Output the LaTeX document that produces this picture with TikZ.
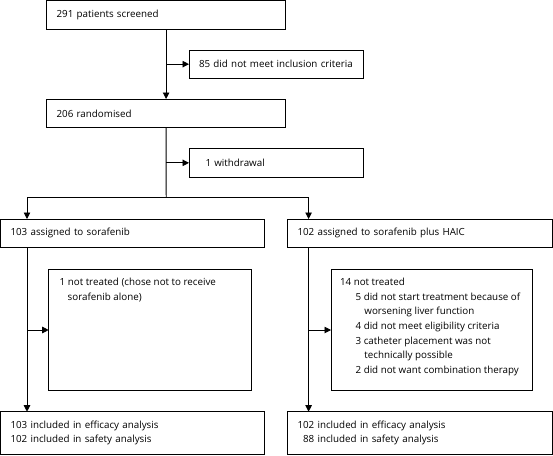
\documentclass[tikz,border=0pt]{standalone}
\usepackage{fontspec}
\setmainfont{Open Sans}
\usetikzlibrary{arrows.meta,positioning}

\tikzset{
  flowbox/.style={draw, anchor=north west, align=left, outer sep=0pt,
    inner xsep=10pt, inner ysep=0pt, line width=0.9pt},
  arr/.style={line width=0.9pt, -{Triangle[length=6.5pt,width=6.5pt]}},
  plain/.style={line width=0.9pt}
}

\begin{document}
\begin{tikzpicture}[x=1pt,y=-1pt,font=\fontsize{9.8}{14.6}\selectfont]
    \useasboundingbox (0,0) rectangle (553,455);

    \node[flowbox, text width=219pt, minimum height=28.5pt] (screen) at (46.6,0.5)
        {291 patients screened};
    \node[flowbox, inner xsep=4pt, text width=166pt, minimum height=28.3pt] (excl) at (189,50)
        {\hspace*{6pt}85 did not meet inclusion criteria};
    \node[flowbox, text width=219pt, minimum height=28.7pt] (rand) at (46.6,99)
        {206 randomised};
    \node[flowbox, text width=154pt, minimum height=28.3pt] (withd) at (189,148.7)
        {\hspace*{6.5pt}1 withdrawal};

    \node[flowbox, text width=244pt, minimum height=28.3pt] (armA) at (0.5,219)
        {103 assigned to sorafenib};
    \node[flowbox, text width=244.5pt, minimum height=28.3pt] (armB) at (287.5,219)
        {102 assigned to sorafenib plus HAIC};

    \node[flowbox, inner xsep=11pt, inner ysep=9pt] (notA) at (48.7,269.3)
        {\parbox[c][103.4pt][t]{180.3pt}{1 not treated (chose not to receive\\
         \hspace*{8pt}sorafenib alone)}};
    \node[flowbox, inner xsep=9pt, inner ysep=9pt] (notB) at (331,269.3)
        {\parbox[c][103.4pt][t]{183.6pt}{14 not treated\\
         \hspace*{15.6pt}5 did not start treatment because of\\
         \hspace*{24.4pt}worsening liver function\\
         \hspace*{15.6pt}4 did not meet eligibility criteria\\
         \hspace*{15.6pt}3 catheter placement was not\\
         \hspace*{24.4pt}technically possible\\
         \hspace*{15.6pt}2 did not want combination therapy}};

    \node[flowbox, text width=244pt, minimum height=42.3pt] (effA) at (0.5,411.7)
        {103 included in efficacy analysis\\102 included in safety analysis};
    \node[flowbox, text width=244.5pt, minimum height=42.3pt] (effB) at (287.5,411.7)
        {102 included in efficacy analysis\\\hphantom{0}88 included in safety analysis};

    \coordinate (split) at (166.2,197.3);
    \coordinate (forkA) at (27,197.3);
    \coordinate (forkB) at (308.6,197.3);

    \draw[arr] (screen.south) -- (rand.north);
    \draw[arr] (screen.south |- excl.west) -- (excl.west);

    \draw[plain] (rand.south) -- (split);
    \draw[arr] (split |- withd.west) -- (withd.west);
    \draw[arr] (split) -- (forkA) -- (forkA |- armA.north);
    \draw[arr] (split) -- (forkB) -- (forkB |- armB.north);

    \draw[arr] (forkA |- armA.south) -- (forkA |- effA.north);
    \draw[arr] (forkA |- notA.west) -- (notA.west);
    \draw[arr] (forkB |- armB.south) -- (forkB |- effB.north);
    \draw[arr] (forkB |- notB.west) -- (notB.west);

\end{tikzpicture}
\end{document}
